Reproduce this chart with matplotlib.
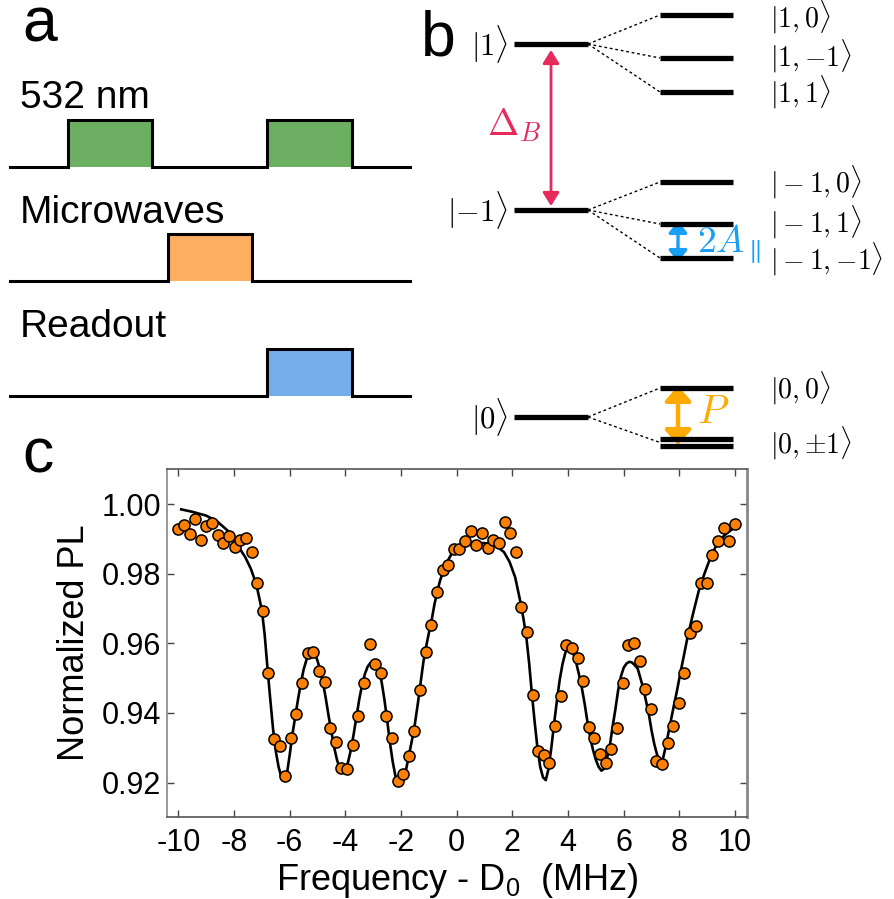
import matplotlib
matplotlib.use("Agg")
import matplotlib.pyplot as plt
from matplotlib.patches import Rectangle, FancyArrowPatch

plt.rcParams["font.family"] = ["Liberation Sans", "DejaVu Sans"]
plt.rcParams["axes.unicode_minus"] = False
plt.rcParams["mathtext.fontset"] = "custom"
plt.rcParams["mathtext.rm"] = "Liberation Sans"
plt.rcParams["mathtext.it"] = "Liberation Sans:italic"

# ---- panel a: pulse sequence (time in arbitrary units) ----
pulse_rows = ["532 nm", "Microwaves", "Readout"]
pulse_colors = ["#6daf62", "#fdae61", "#74aeea"]
pulse_windows = [[(58, 142), (257, 342)], [(158, 242)], [(257, 342)]]
seq_end = 400

# ---- panel b: energy levels (arbitrary units) ----
main_labels = [r"$|1\rangle$", r"$|{-1}\rangle$", r"$|0\rangle$"]
main_E = [426, 260, 53]
sub_E = [[455, 412, 378], [288, 246, 212], [82, 31, 24]]
sub_labels = [r"$|1,0\rangle$", r"$|1,{-1}\rangle$", r"$|1,1\rangle$",
              r"$|-1,0\rangle$", r"$|-1,1\rangle$", r"$|-1,{-1}\rangle$",
              r"$|0,0\rangle$", r"$|0,{\pm1}\rangle$"]
sub_label_E = [453, 414, 378, 288, 248, 211, 82, 27]

# ---- panel c: ODMR spectrum ----
freq = [-10.00, -9.80, -9.60, -9.39, -9.19, -8.99, -8.79, -8.59, -8.38, -8.18,
        -7.98, -7.78, -7.58, -7.37, -7.17, -6.97, -6.77, -6.57, -6.36, -6.16,
        -5.96, -5.76, -5.56, -5.35, -5.15, -4.95, -4.75, -4.55, -4.34, -4.14,
        -3.94, -3.74, -3.54, -3.33, -3.13, -2.93, -2.73, -2.53, -2.32, -2.12,
        -1.92, -1.72, -1.52, -1.31, -1.11, -0.91, -0.71, -0.51, -0.30, -0.10,
        0.10, 0.30, 0.51, 0.71, 0.91, 1.11, 1.31, 1.52, 1.72, 1.92,
        2.12, 2.32, 2.53, 2.73, 2.93, 3.13, 3.33, 3.54, 3.74, 3.94,
        4.14, 4.34, 4.55, 4.75, 4.95, 5.15, 5.35, 5.56, 5.76, 5.96,
        6.16, 6.36, 6.57, 6.77, 6.97, 7.17, 7.37, 7.58, 7.78, 7.98,
        8.18, 8.38, 8.59, 8.79, 8.99, 9.19, 9.39, 9.60, 9.80, 10.00]
pl = [0.9928, 0.9940, 0.9914, 0.9956, 0.9897, 0.9936, 0.9946, 0.9911, 0.9889, 0.9908,
      0.9877, 0.9898, 0.9904, 0.9862, 0.9774, 0.9692, 0.9515, 0.9326, 0.9305, 0.9219,
      0.9327, 0.9398, 0.9487, 0.9573, 0.9575, 0.9520, 0.9489, 0.9358, 0.9317, 0.9243,
      0.9239, 0.9309, 0.9391, 0.9487, 0.9598, 0.9541, 0.9515, 0.9391, 0.9329, 0.9204,
      0.9226, 0.9276, 0.9348, 0.9465, 0.9576, 0.9654, 0.9748, 0.9812, 0.9825, 0.9870,
      0.9870, 0.9893, 0.9923, 0.9882, 0.9916, 0.9875, 0.9897, 0.9887, 0.9949, 0.9916,
      0.9862, 0.9705, 0.9632, 0.9453, 0.9291, 0.9279, 0.9255, 0.9363, 0.9448, 0.9596,
      0.9587, 0.9558, 0.9491, 0.9360, 0.9327, 0.9281, 0.9255, 0.9297, 0.9358, 0.9487,
      0.9595, 0.9600, 0.9550, 0.9470, 0.9412, 0.9262, 0.9252, 0.9314, 0.9363, 0.9430,
      0.9515, 0.9630, 0.9649, 0.9774, 0.9772, 0.9853, 0.9893, 0.9932, 0.9895, 0.9944]

fit_freq = [-9.9, -9.5, -9.0, -8.6, -8.2, -7.9, -7.6, -7.4, -7.2, -7.0, -6.9, -6.8,
            -6.7, -6.6, -6.5, -6.4, -6.3, -6.2, -6.1, -6.0, -5.9, -5.8, -5.7, -5.6,
            -5.5, -5.4, -5.3, -5.2, -5.1, -5.0, -4.9, -4.8, -4.7, -4.6, -4.5, -4.4,
            -4.3, -4.2, -4.1, -4.0, -3.9, -3.8, -3.7, -3.6, -3.5, -3.4, -3.3, -3.2,
            -3.1, -3.0, -2.9, -2.8, -2.7, -2.6, -2.5, -2.4, -2.3, -2.2, -2.1, -2.0,
            -1.9, -1.8, -1.7, -1.6, -1.5, -1.4, -1.3, -1.2, -1.1, -1.0, -0.9, -0.8,
            -0.7, -0.6, -0.4, -0.2, 0.0, 0.3, 0.6, 1.0, 1.4, 1.7, 1.9, 2.1,
            2.3, 2.4, 2.5, 2.6, 2.7, 2.8, 2.9, 3.0, 3.1, 3.2, 3.3, 3.4,
            3.5, 3.6, 3.7, 3.8, 3.9, 4.0, 4.1, 4.2, 4.3, 4.4, 4.5, 4.6,
            4.7, 4.8, 4.9, 5.0, 5.1, 5.2, 5.3, 5.4, 5.5, 5.6, 5.7, 5.8,
            5.9, 6.0, 6.1, 6.2, 6.3, 6.4, 6.5, 6.6, 6.7, 6.8, 6.9, 7.0,
            7.1, 7.2, 7.3, 7.4, 7.5, 7.6, 7.7, 7.8, 7.9, 8.0, 8.1, 8.2,
            8.3, 8.5, 8.7, 8.9, 9.1, 9.3, 9.5, 9.7, 9.9]
fit_pl = [0.9985, 0.9978, 0.9967, 0.9950, 0.9922, 0.9885, 0.9848, 0.9815, 0.9770, 0.9695, 0.9625, 0.9530,
          0.9440, 0.9355, 0.9290, 0.9245, 0.9215, 0.9205, 0.9225, 0.9280, 0.9340, 0.9390, 0.9440, 0.9485,
          0.9525, 0.9552, 0.9570, 0.9577, 0.9572, 0.9550, 0.9520, 0.9485, 0.9440, 0.9390, 0.9345, 0.9300,
          0.9265, 0.9240, 0.9231, 0.9238, 0.9260, 0.9295, 0.9340, 0.9390, 0.9440, 0.9480, 0.9512, 0.9533,
          0.9544, 0.9546, 0.9540, 0.9522, 0.9490, 0.9440, 0.9380, 0.9315, 0.9260, 0.9218, 0.9197, 0.9192,
          0.9210, 0.9245, 0.9285, 0.9325, 0.9370, 0.9425, 0.9485, 0.9545, 0.9590, 0.9630, 0.9667, 0.9712,
          0.9748, 0.9780, 0.9826, 0.9855, 0.9870, 0.9880, 0.9887, 0.9888, 0.9882, 0.9862, 0.9834, 0.9790,
          0.9715, 0.9670, 0.9619, 0.9545, 0.9456, 0.9375, 0.9300, 0.9245, 0.9215, 0.9207, 0.9240, 0.9300,
          0.9370, 0.9435, 0.9495, 0.9540, 0.9572, 0.9588, 0.9586, 0.9568, 0.9542, 0.9508, 0.9470, 0.9425,
          0.9373, 0.9328, 0.9293, 0.9265, 0.9245, 0.9234, 0.9240, 0.9270, 0.9305, 0.9360, 0.9410, 0.9465,
          0.9505, 0.9530, 0.9542, 0.9547, 0.9545, 0.9537, 0.9528, 0.9500, 0.9472, 0.9435, 0.9398, 0.9350,
          0.9310, 0.9280, 0.9264, 0.9265, 0.9300, 0.9340, 0.9380, 0.9420, 0.9458, 0.9500, 0.9540, 0.9580,
          0.9620, 0.9688, 0.9752, 0.9800, 0.9843, 0.9877, 0.9901, 0.9916, 0.9928]

xticks = [-10, -8, -6, -4, -2, 0, 2, 4, 6, 8, 10]
yticks = [0.92, 0.94, 0.96, 0.98, 1.00]

W, H = 895, 899
fig = plt.figure(figsize=(W / 100, H / 100), dpi=100)


def px_axes(x0, y0, x1, y1):
    return fig.add_axes([x0 / W, 1 - y1 / H, (x1 - x0) / W, (y1 - y0) / H])


# ---------------- panel a ----------------
axa = px_axes(0, 0, 420, 410)
axa.set_xlim(-10, 410)
axa.set_ylim(-2.125, 1.456)
axa.axis("off")
for i, (name, col, wins) in enumerate(zip(pulse_rows, pulse_colors, pulse_windows)):
    base = -i
    xs, ys = [0], [base]
    for s, e in wins:
        xs += [s, s, e, e]
        ys += [base, base + 0.41, base + 0.41, base]
        axa.add_patch(Rectangle((s, base), e - s, 0.41, facecolor=col,
                                edgecolor="none", zorder=1))
    xs.append(seq_end)
    ys.append(base)
    axa.plot(xs, ys, color="black", lw=2.2, zorder=2, solid_joinstyle="miter")
    axa.text(10, base + 0.51, name, fontsize=28, va="baseline", ha="left")

# ---------------- panel b ----------------
axb = px_axes(420, 0, 895, 470)
axb.set_xlim(0, 475)
axb.set_ylim(0, 470)
axb.axis("off")
lx0, lx1, rx0, rx1 = 94, 168, 240, 313
for i, E in enumerate(main_E):
    axb.plot([lx0, lx1], [E, E], color="black", lw=3.8, solid_capstyle="butt")
    axb.text(88, E, main_labels[i], fontsize=22, ha="right", va="center",
             math_fontfamily="cm")
    subs = sub_E[i]
    for Es in subs:
        axb.plot([rx0, rx1], [Es, Es], color="black", lw=3.8, solid_capstyle="butt")
    targets = subs if i < 2 else [subs[0], (subs[1] + subs[2]) / 2]
    for Es in targets:
        axb.plot([lx1, rx0], [E, Es], color="black", lw=1.0, ls=(0, (2, 2)))
for lab, E in zip(sub_labels, sub_label_E):
    axb.text(350, E, lab, fontsize=20, ha="left", va="center", math_fontfamily="cm")


def double_arrow(ax, x, y0, y1, color, lw, hl, hw):
    ax.add_patch(FancyArrowPatch((x, y0), (x, y1),
                                 arrowstyle=f"<|-|>,head_length={hl},head_width={hw}",
                                 mutation_scale=20, color=color, lw=lw,
                                 shrinkA=0, shrinkB=0))


double_arrow(axb, 131, 420, 264, "#e8295c", 2.0, 0.4, 0.25)
axb.text(94, 345, r"$\Delta_B$", fontsize=27, color="#e8295c", ha="center",
         va="center", math_fontfamily="cm")
double_arrow(axb, 258, 249, 208, "#179ff5", 2.4, 0.35, 0.28)
axb.text(277, 226, r"$2A_\parallel$", fontsize=27, color="#179ff5", ha="left",
         va="center", math_fontfamily="cm")
double_arrow(axb, 258, 84, 25, "#ffaa00", 3.2, 0.45, 0.4)
axb.text(277, 58, r"$P$", fontsize=29, color="#ffaa00", ha="left",
         va="center", math_fontfamily="cm")

# ---------------- panel c ----------------
axc = px_axes(166.7, 469, 747, 817)
axc.plot(fit_freq, fit_pl, color="black", lw=1.9, zorder=2)
axc.plot(freq, pl, "o", color="#ff8000", mec="black", mew=1.1, ms=8, zorder=3)
axc.set_xlim(-10.42, 10.43)
axc.set_ylim(0.9101, 1.0101)
axc.set_xticks(xticks)
axc.set_xticklabels([str(t) for t in xticks])
axc.set_yticks(yticks)
axc.set_yticklabels([f"{t:.2f}" for t in yticks])
axc.tick_params(direction="in", top=True, right=True, length=5, width=1,
                labelsize=22, color="#444444")
axc.tick_params(axis="x", pad=8)
axc.tick_params(axis="y", pad=4)
for side, sp in axc.spines.items():
    sp.set_color("#555555" if side in ("bottom", "top") else "#888888")
    sp.set_linewidth(1.2 if side in ("bottom", "top", "left") else 2.0)
axc.set_ylabel("Normalized PL", fontsize=26, labelpad=7)
axc.set_xlabel("Frequency - D$_0$  (MHz)", fontsize=26, labelpad=2,
               math_fontfamily="custom")

# panel letters
fig.text(22 / W, 1 - 42 / H, "a", fontsize=45, va="baseline")
fig.text(421 / W, 1 - 55 / H, "b", fontsize=45, va="baseline")
fig.text(22 / W, 1 - 472 / H, "c", fontsize=45, va="baseline")

fig.savefig("out.png", dpi=100)
